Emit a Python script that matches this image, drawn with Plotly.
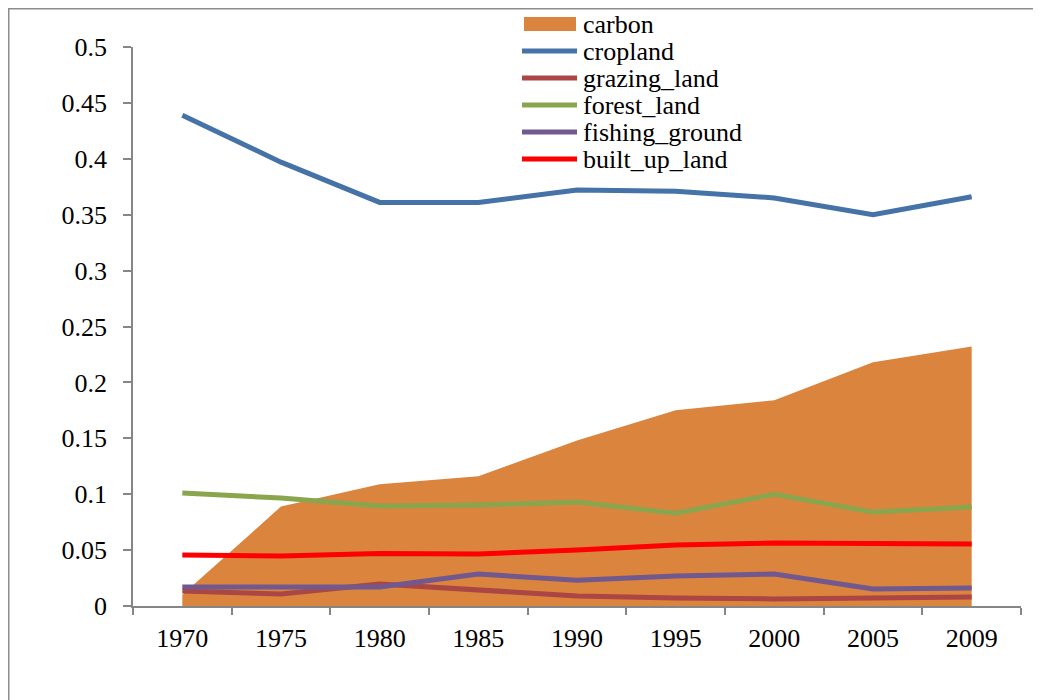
import plotly.graph_objects as go

years = ["1970", "1975", "1980", "1985", "1990", "1995", "2000", "2005", "2009"]
carbon = [0.010, 0.089, 0.109, 0.116, 0.148, 0.175, 0.184, 0.218, 0.232]
cropland = [0.439, 0.397, 0.361, 0.361, 0.372, 0.371, 0.365, 0.350, 0.366]
grazing_land = [0.0134, 0.0107, 0.0197, 0.0143, 0.0090, 0.0072, 0.0063, 0.0072, 0.0080]
forest_land = [0.101, 0.0966, 0.0894, 0.0903, 0.093, 0.083, 0.100, 0.084, 0.0886]
fishing_ground = [0.017, 0.0165, 0.017, 0.0286, 0.023, 0.0268, 0.0286, 0.0152, 0.016]
built_up_land = [0.0456, 0.0447, 0.047, 0.0465, 0.050, 0.0546, 0.0564, 0.0564, 0.0555]

series_names = ["carbon", "cropland", "grazing_land", "forest_land", "fishing_ground", "built_up_land"]
series_colors = ["#DB843D", "#4572A7", "#AA4643", "#89A54E", "#71588F", "#FF0000"]

# figure geometry (figure pixels)
W, H = 1033, 692
ML, MR, MT, MB = 125, 20, 39, 94
PW, PH = W - ML - MR, H - MT - MB


def px_x(x):
    return (x - ML) / PW


def px_y(y):
    return (H - MB - y) / PH


FONT = "Liberation Serif, Times New Roman, serif"

fig = go.Figure()
fig.add_trace(go.Scatter(x=years, y=carbon, name=series_names[0], mode="lines",
                         fill="tozeroy", fillcolor=series_colors[0],
                         line=dict(width=0, color=series_colors[0]), showlegend=False))
for name, vals, col in zip(series_names[1:],
                           [cropland, grazing_land, forest_land, fishing_ground, built_up_land],
                           series_colors[1:]):
    fig.add_trace(go.Scatter(x=years, y=vals, name=name, mode="lines",
                             line=dict(width=5, color=col), showlegend=False))

# legend (drawn as key shapes + text)
leg_x0, leg_x1, leg_tx = 514, 569, 573
leg_y0, leg_dy = 16, 27
for i, (name, col) in enumerate(zip(series_names, series_colors)):
    cy = leg_y0 + i * leg_dy
    if i == 0:
        fig.add_shape(type="rect", xref="paper", yref="paper",
                      x0=px_x(leg_x0 + 2), x1=px_x(leg_x1 - 1),
                      y0=px_y(cy - 7), y1=px_y(cy + 7),
                      fillcolor=col, line=dict(width=0))
    else:
        fig.add_shape(type="line", xref="paper", yref="paper",
                      x0=px_x(leg_x0), x1=px_x(leg_x1), y0=px_y(cy), y1=px_y(cy),
                      line=dict(color=col, width=5))
    fig.add_annotation(xref="paper", yref="paper", x=px_x(leg_tx), y=px_y(cy),
                       xanchor="left", yanchor="middle", text=name, showarrow=False,
                       font=dict(family=FONT, size=26, color="black"))

axis_col = "#868686"
fig.update_layout(
    width=W, height=H,
    margin=dict(l=ML, r=MR, t=MT, b=MB, autoexpand=False),
    paper_bgcolor="white", plot_bgcolor="white",
    font=dict(family=FONT, size=26, color="black"),
    showlegend=False,
    xaxis=dict(type="category", tickson="boundaries", ticks="outside", ticklen=7,
               tickcolor=axis_col, tickwidth=1.5, showline=True, linecolor=axis_col,
               linewidth=1.5, showgrid=False, zeroline=False, range=[-0.5, 8.5],
               ticklabelstandoff=8),
    yaxis=dict(range=[0, 0.5], dtick=0.05, tick0=0, ticks="outside", ticklen=8,
               tickcolor=axis_col, tickwidth=1.5, showline=True, linecolor=axis_col,
               linewidth=1.5, showgrid=False, zeroline=False, ticklabelstandoff=11),
)

# outer chart border (top and left edges of the chart frame)
fig.add_shape(type="line", xref="paper", yref="paper",
              x0=px_x(0), x1=px_x(W + 5), y0=px_y(0.5), y1=px_y(0.5),
              line=dict(color="#8C8C8C", width=2))
fig.add_shape(type="line", xref="paper", yref="paper",
              x0=px_x(0.5), x1=px_x(0.5), y0=px_y(H + 5), y1=px_y(0),
              line=dict(color="#8C8C8C", width=2))

fig.write_html("out.html")
